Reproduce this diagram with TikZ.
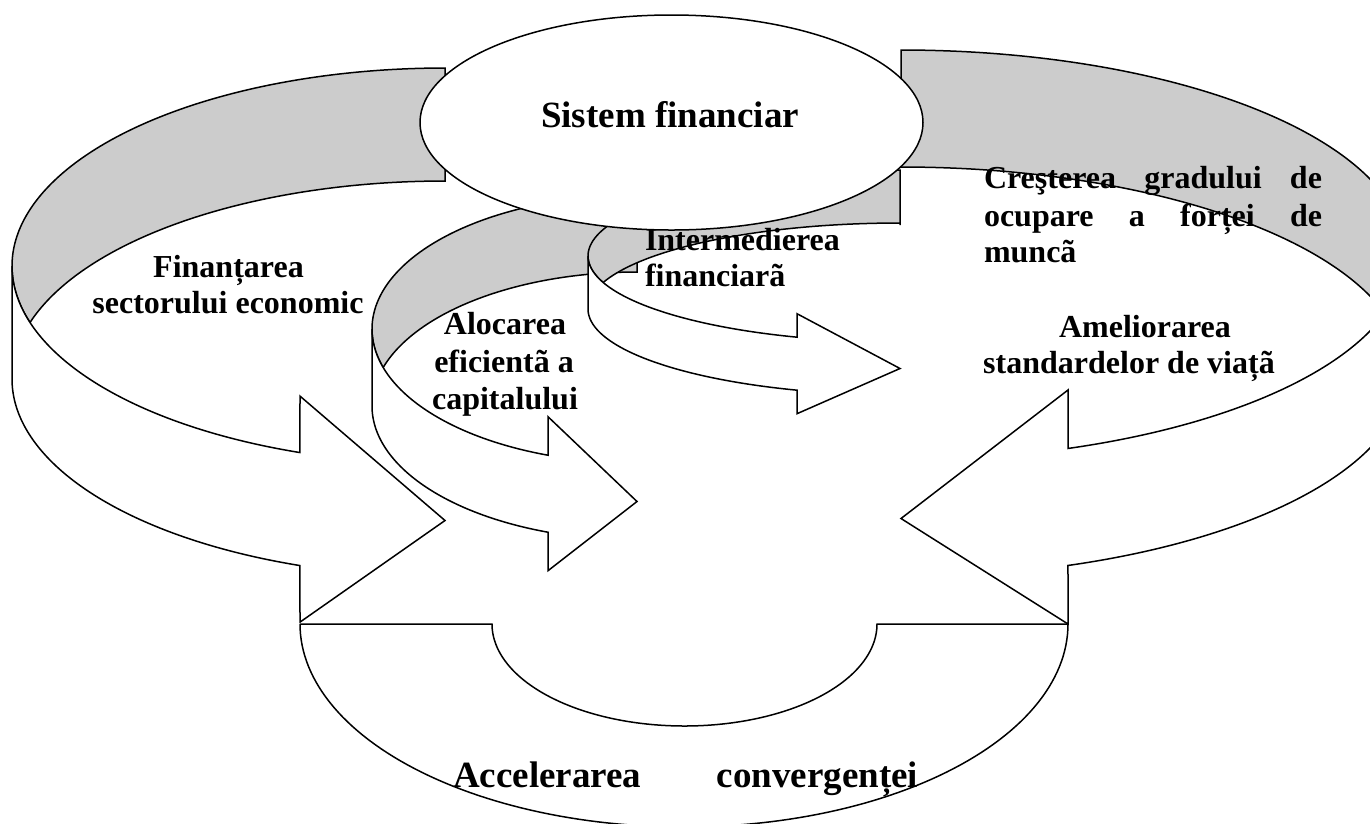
\documentclass[tikz,border=0pt]{standalone}
\usepackage{fontspec}
\setmainfont{Liberation Serif}
\usetikzlibrary{shapes.geometric}
\definecolor{bandgray}{RGB}{204,204,204}
\tikzset{
  shapeline/.style={draw=black, line width=1.5pt, line join=miter},
  backband/.style={shapeline, fill=bandgray},
  frontband/.style={shapeline, fill=white},
  sysell/.style={ellipse, shapeline, fill=white, minimum width=503pt, minimum height=215pt, inner sep=0pt},
  lbl/.style={inner sep=0pt, outer sep=0pt, font=\bfseries\fontsize{32}{36}\selectfont},
  biglbl/.style={inner sep=0pt, outer sep=0pt, font=\bfseries\fontsize{37}{42}\selectfont},
  smp/.style={samples=120, variable=\t}
}
\begin{document}
\begin{tikzpicture}[x=1pt,y=-1pt]
\useasboundingbox (0,0) rectangle (1370,823);
\clip (0,0) rectangle (1370,823);

% ---- left curved arrow (Finantarea)
\path[backband] (445,181)
  -- plot[smp, domain=270:196.58] ({445+433*cos(\t)},{379+198*sin(\t)})
  -- plot[smp, domain=163.42:270] ({445+433*cos(\t)},{266+198*sin(\t)})
  -- cycle;
\path[frontband] (12,266)
  -- plot[smp, domain=180:109.57] ({445+433*cos(\t)},{266+198*sin(\t)})
  -- (300,396.1) -- (445,520.5) -- (300,622.1)
  -- plot[smp, domain=109.57:180] ({445+433*cos(\t)},{379+198*sin(\t)})
  -- cycle;

% ---- middle curved arrow (Alocarea)
\path[backband] (637,272)
  -- plot[smp, domain=270:196.70] ({637+265*cos(\t)},{406+134*sin(\t)})
  -- plot[smp, domain=163.30:270] ({637+265*cos(\t)},{329+134*sin(\t)})
  -- cycle;
\path[frontband] (372,329)
  -- plot[smp, domain=180:109.62] ({637+265*cos(\t)},{329+134*sin(\t)})
  -- (548,416.7) -- (637,501.5) -- (548,570.7)
  -- plot[smp, domain=109.62:180] ({637+265*cos(\t)},{406+134*sin(\t)})
  -- cycle;

% ---- small curved arrow (Intermedierea)
\path[backband] (900,225)
  -- plot[smp, domain=270:197.95] ({900+312*cos(\t)},{309+86*sin(\t)})
  -- plot[smp, domain=162.05:270] ({900+312*cos(\t)},{256+86*sin(\t)})
  -- cycle;
\path[frontband] (588,256)
  -- plot[smp, domain=180:109.27] ({900+312*cos(\t)},{256+86*sin(\t)})
  -- (797,313.7) -- (900,368.5) -- (797,413.7)
  -- plot[smp, domain=109.27:180] ({900+312*cos(\t)},{309+86*sin(\t)})
  -- cycle;

% ---- right curved arrow (Cresterea / Ameliorarea)
\path[backband] (901,167)
  -- plot[smp, domain=-90:-16.58] ({901+505*cos(\t)},{372+205*sin(\t)})
  -- plot[smp, domain=16.58:-90] ({901+505*cos(\t)},{255+205*sin(\t)})
  -- cycle;
\path[frontband] (1406,255)
  -- plot[smp, domain=0:70.69] ({901+505*cos(\t)},{255+205*sin(\t)})
  -- (1068,390) -- (901,518.5) -- (1068,624)
  -- plot[smp, domain=70.69:0] ({901+505*cos(\t)},{372+205*sin(\t)})
  -- cycle;

% ---- bottom block arc (Accelerarea convergentei)
\path[frontband] (300,624) -- (492,624)
  -- plot[smp, domain=180:0] ({684.5+192.5*cos(\t)},{624+102*sin(\t)})
  -- (1068,624)
  -- plot[smp, domain=0:180] ({684+384*cos(\t)},{624+203*sin(\t)})
  -- cycle;

% ---- central ellipse
\node[sysell] (sys) at (671.5,122.5) {};

% ---- texts
\node[biglbl, anchor=base] (systxt) at (670,127) {Sistem financiar};
\node[lbl, anchor=base] (fin1) at (228.5,277) {Finanțarea};
\node[lbl, anchor=base] (fin2) at (228,313) {sectorului economic};
\node[lbl, anchor=base] (alo1) at (505,334) {Alocarea};
\node[lbl, anchor=base] (alo2) at (504,372) {eficientã a};
\node[lbl, anchor=base] (alo3) at (505,409) {capitalului};
\node[lbl, anchor=base west] (int1) at (645,250) {Intermedierea};
\node[lbl, anchor=base west] (int2) at (645,286.5) {financiarã};
\node[lbl, anchor=base west] (cre1) at (984,188.5) {\makebox[338pt][s]{Creşterea gradului de}};
\node[lbl, anchor=base west] (cre2) at (984,226.5) {\makebox[338pt][s]{ocupare a forței de}};
\node[lbl, anchor=base west] (cre3) at (984,262) {muncã};
\node[lbl, anchor=base] (ame1) at (1145,337) {Ameliorarea};
\node[lbl, anchor=base] (ame2) at (1129,373) {standardelor de viațã};
\node[biglbl, anchor=base west] (acc) at (453,787) {\makebox[465pt][s]{Accelerarea convergenței}};
\end{tikzpicture}
\end{document}
